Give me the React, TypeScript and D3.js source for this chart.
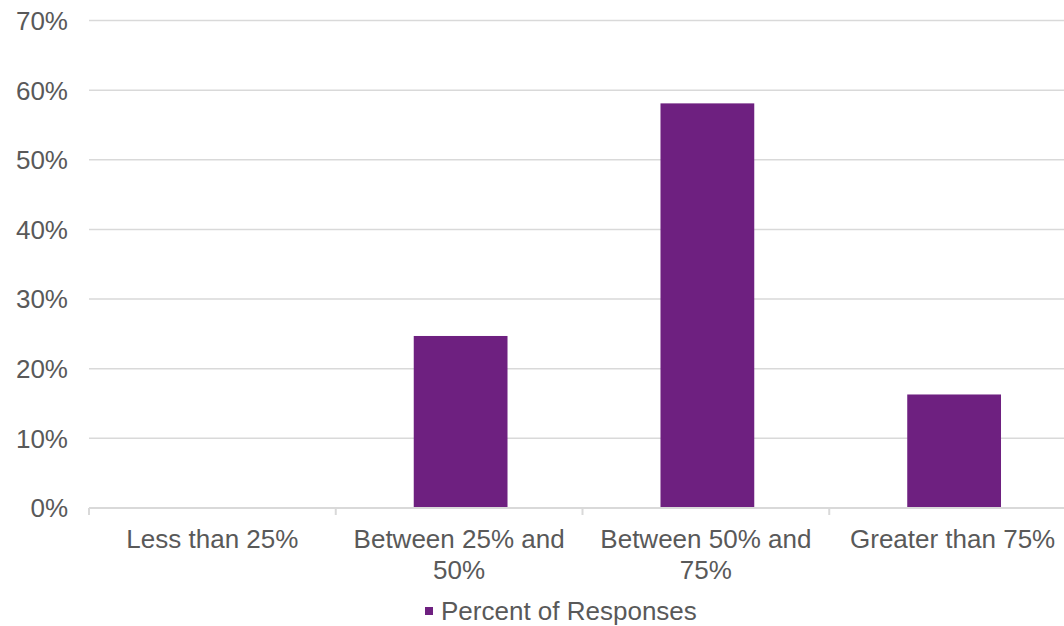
import React, { useEffect, useRef } from 'react';
import * as d3 from 'd3';

// chart data
const categories = ['Less than 25%', 'Between 25% and 50%', 'Between 50% and 75%', 'Greater than 75%'];
const responses = [0, 24.7, 58.1, 16.3];
const yTicks = [0, 10, 20, 30, 40, 50, 60, 70];
const seriesName = 'Percent of Responses';

const W = 1064;
const H = 626;

export default function App() {
  const ref = useRef<SVGSVGElement>(null);

  useEffect(() => {
    const svg = d3.select(ref.current);
    svg.selectAll('*').remove();

    const m = { top: 20.5, left: 89, bottom: 118 };
    const plotRight = 1076;
    const font = 'Liberation Sans, Arial, sans-serif';
    const fs = 26;
    const textColor = '#595959';
    const grid = '#d9d9d9';
    const barColor = '#6E2080';

    // bars sit ~1.5px right of band centre in the original
    const x = d3.scaleBand().domain(categories).range([m.left + 1.5, plotRight + 1.5]).paddingInner(0.62).paddingOuter(0.31);
    const y = d3.scaleLinear().domain([0, 70]).range([H - m.bottom, m.top]);
    const step = (plotRight - m.left) / categories.length;

    // gridlines
    svg.append('g')
      .selectAll('line')
      .data(yTicks.filter(d => d > 0))
      .join('line')
      .attr('x1', m.left)
      .attr('x2', plotRight)
      .attr('y1', d => y(d))
      .attr('y2', d => y(d))
      .attr('stroke', grid)
      .attr('stroke-width', 1.5);

    // y labels
    svg.append('g')
      .selectAll('text')
      .data(yTicks)
      .join('text')
      .attr('x', 68)
      .attr('y', d => y(d))
      .attr('dy', '0.36em')
      .attr('text-anchor', 'end')
      .attr('font-family', font)
      .attr('font-size', fs)
      .attr('fill', textColor)
      .text(d => d + '%');

    // bars
    svg.append('g')
      .selectAll('rect')
      .data(responses)
      .join('rect')
      .attr('x', (d, i) => x(categories[i])!)
      .attr('width', x.bandwidth())
      .attr('y', d => y(d))
      .attr('height', d => y(0) - y(d))
      .attr('fill', barColor);

    // x axis line + ticks between categories
    svg.append('line')
      .attr('x1', m.left)
      .attr('x2', plotRight)
      .attr('y1', y(0))
      .attr('y2', y(0))
      .attr('stroke', grid)
      .attr('stroke-width', 2);
    svg.append('g')
      .selectAll('line')
      .data(d3.range(categories.length + 1))
      .join('line')
      .attr('x1', i => m.left + i * step)
      .attr('x2', i => m.left + i * step)
      .attr('y1', y(0))
      .attr('y2', y(0) + 7)
      .attr('stroke', grid)
      .attr('stroke-width', 2);

    // category labels, wrapped to band width
    const labels = svg.append('g');
    categories.forEach((c, ci) => {
      const cx = m.left + (ci + 0.5) * step;
      const t = labels.append('text')
        .attr('x', cx)
        .attr('y', 548)
        .attr('text-anchor', 'middle')
        .attr('font-family', font)
        .attr('font-size', fs)
        .attr('fill', textColor);
      const words = c.split(' ');
      let line: string[] = [];
      let lineNo = 0;
      let tspan = t.append('tspan').attr('x', cx).attr('y', 548);
      words.forEach(w => {
        line.push(w);
        tspan.text(line.join(' '));
        if ((tspan.node() as SVGTSpanElement).getComputedTextLength() > step - 20 && line.length > 1) {
          line.pop();
          tspan.text(line.join(' '));
          line = [w];
          lineNo++;
          tspan = t.append('tspan').attr('x', cx).attr('y', 548 + lineNo * 31).text(w);
        }
      });
    });

    // legend
    const lg = svg.append('g');
    lg.append('rect')
      .attr('x', 425)
      .attr('y', 607)
      .attr('width', 8)
      .attr('height', 8)
      .attr('fill', barColor);
    lg.append('text')
      .attr('x', 441)
      .attr('y', 620)
      .attr('font-family', font)
      .attr('font-size', fs)
      .attr('fill', textColor)
      .text(seriesName);
  }, []);

  return (
    <svg ref={ref} width={W} height={H} style={{ position: 'absolute', left: 0, top: 0, background: '#fff' }} />
  );
}
